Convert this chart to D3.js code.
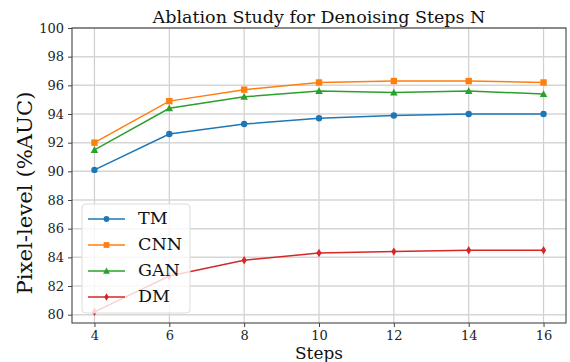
<!DOCTYPE html>
<head>
  <meta charset="utf-8" />
  <script src="https://d3js.org/d3.v7.min.js"></script>
  <style>
    body { margin: 0; background: #fff; }
    svg text { font-family: "DejaVu Serif", "Liberation Serif", serif !important; }
  </style>
</head>
<body>
  <script>
    var steps = [4, 6, 8, 10, 12, 14, 16];
    var tm = [90.1, 92.6, 93.3, 93.7, 93.9, 94.0, 94.0];
    var cnn = [92.0, 94.9, 95.7, 96.2, 96.3, 96.3, 96.2];
    var gan = [91.5, 94.4, 95.2, 95.6, 95.5, 95.6, 95.4];
    var dm = [80.2, 82.7, 83.8, 84.3, 84.4, 84.5, 84.5];
    var yTicks = [80, 82, 84, 86, 88, 90, 92, 94, 96, 98, 100];

    var series = [
      { name: "TM", values: tm, color: "#1f77b4", marker: "circle" },
      { name: "CNN", values: cnn, color: "#ff7f0e", marker: "square" },
      { name: "GAN", values: gan, color: "#2ca02c", marker: "triangle" },
      { name: "DM", values: dm, color: "#d62728", marker: "diamond" }
    ];

    var width = 570, height = 362;
    var margin = { left: 72, right: 4, top: 28, bottom: 39 };

    var svg = d3.select("body").append("svg")
      .attr("width", width)
      .attr("height", height);

    var x = d3.scaleLinear().domain([3.4, 16.6])
      .range([margin.left, width - margin.right]);
    var y = d3.scaleLinear().domain([79.42, 100])
      .range([height - margin.bottom, margin.top]);

    // shrink or grow a text until it is about w pixels wide
    function fit(t, w) {
      var fs = parseFloat(t.attr("font-size"));
      var len = t.node().getComputedTextLength();
      if (len > 0) t.attr("font-size", (fs * w / len).toFixed(2));
      return t;
    }

    // grid
    var grid = svg.append("g");
    grid.selectAll(".gx").data(steps).enter().append("line")
      .attr("x1", d => x(d)).attr("x2", d => x(d))
      .attr("y1", margin.top).attr("y2", height - margin.bottom)
      .attr("stroke", "#cfcfcf").attr("stroke-width", 1.2);
    grid.selectAll(".gy").data(yTicks).enter().append("line")
      .attr("x1", margin.left).attr("x2", width - margin.right)
      .attr("y1", d => y(d)).attr("y2", d => y(d))
      .attr("stroke", "#d6d6d6").attr("stroke-width", 1.5);

    // axes
    var xAxis = svg.append("g")
      .attr("transform", "translate(0," + (height - margin.bottom) + ")")
      .call(d3.axisBottom(x).tickValues(steps).tickSize(4).tickPadding(3.5));
    var yAxis = svg.append("g")
      .attr("transform", "translate(" + margin.left + ",0)")
      .call(d3.axisLeft(y).tickValues(yTicks).tickSize(4).tickPadding(4));
    [xAxis, yAxis].forEach(function (a) {
      a.attr("font-family", null).attr("font-size", null);
      a.select(".domain").remove();
      a.selectAll("line").attr("stroke", "#444");
      a.selectAll("text").attr("font-size", 13).attr("fill", "#222");
    });

    // frame
    svg.append("rect")
      .attr("x", margin.left).attr("y", margin.top)
      .attr("width", width - margin.right - margin.left)
      .attr("height", height - margin.bottom - margin.top)
      .attr("fill", "none").attr("stroke", "#444").attr("stroke-width", 1.1);

    var line = d3.line().x((d, i) => x(steps[i])).y(d => y(d));

    function drawMarker(g, type, cx, cy, color, s) {
      if (type == "circle") {
        g.append("circle").attr("cx", cx).attr("cy", cy).attr("r", 3.2 * s).attr("fill", color);
      } else if (type == "square") {
        g.append("rect").attr("x", cx - 3.2 * s).attr("y", cy - 3.2 * s)
          .attr("width", 6.4 * s).attr("height", 6.4 * s).attr("fill", color);
      } else if (type == "triangle") {
        var r = 3.8 * s;
        g.append("path").attr("d", "M" + cx + "," + (cy - r) + "L" + (cx + r) + "," + (cy + r * 0.8) +
          "L" + (cx - r) + "," + (cy + r * 0.8) + "Z").attr("fill", color);
      } else {
        var h = 4.2 * s, w = 2.6 * s;
        g.append("path").attr("d", "M" + cx + "," + (cy - h) + "L" + (cx + w) + "," + cy +
          "L" + cx + "," + (cy + h) + "L" + (cx - w) + "," + cy + "Z").attr("fill", color);
      }
    }

    var plot = svg.append("g");
    series.forEach(function (s) {
      plot.append("path").datum(s.values)
        .attr("d", line).attr("fill", "none")
        .attr("stroke", s.color).attr("stroke-width", 1.5);
      s.values.forEach(function (v, i) {
        drawMarker(plot, s.marker, x(steps[i]), y(v), s.color, 1);
      });
    });

    // legend
    var lg = svg.append("g");
    lg.append("rect").attr("x", 82).attr("y", 204).attr("width", 108).attr("height", 109)
      .attr("rx", 4).attr("fill", "#fff").attr("fill-opacity", 0.8)
      .attr("stroke", "#ddd").attr("stroke-width", 1);
    series.forEach(function (s, i) {
      var ly = 219 + i * 26;
      lg.append("line").attr("x1", 88).attr("x2", 125).attr("y1", ly).attr("y2", ly)
        .attr("stroke", s.color).attr("stroke-width", 1.5);
      drawMarker(lg, s.marker, 106.5, ly, s.color, 0.9);
      lg.append("text").attr("x", 138).attr("y", ly + 5)
        .attr("font-size", 17.5).attr("fill", "#111").text(s.name);
    });

    // title and labels
    fit(svg.append("text").attr("x", (margin.left + width - margin.right) / 2).attr("y", 23)
      .attr("text-anchor", "middle").attr("font-size", 16).attr("fill", "#111")
      .text("Ablation Study for Denoising Steps N"), 333);
    fit(svg.append("text").attr("x", (margin.left + width - margin.right) / 2).attr("y", 359)
      .attr("text-anchor", "middle").attr("font-size", 17).attr("fill", "#111")
      .text("Steps"), 48);
    fit(svg.append("text")
      .attr("transform", "translate(32,193) rotate(-90)")
      .attr("text-anchor", "middle").attr("font-size", 18).attr("fill", "#111")
      .text("Pixel-level (%AUC)"), 203);
  </script>
</body>
